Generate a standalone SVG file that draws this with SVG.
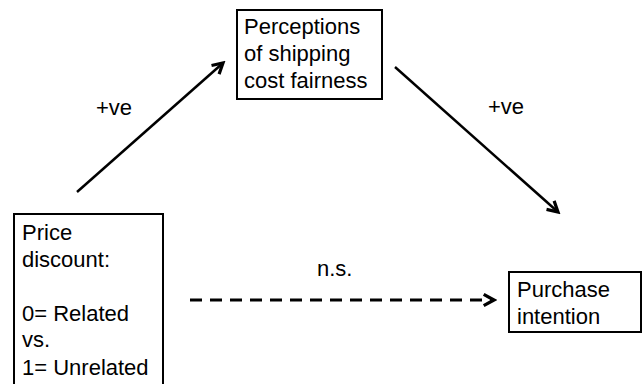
<svg xmlns="http://www.w3.org/2000/svg" width="643" height="384" viewBox="0 0 643 384">
<defs>
<style>
.box{fill:#fff;stroke:#000;stroke-width:2}
text{font-family:"Liberation Sans",Arial,sans-serif;font-size:22px;fill:#000}
.conn{stroke:#000;stroke-width:2.5;fill:none}
.dash{stroke-width:3;stroke-dasharray:12 8}
</style>
<marker id="ah" markerUnits="userSpaceOnUse" markerWidth="16" markerHeight="16" refX="11" refY="6" orient="auto" viewBox="0 0 14 12">
<path d="M2,1 L11,6 L2,11" fill="none" stroke="#000" stroke-width="2.8" stroke-linejoin="miter"/>
</marker>
</defs>
<rect width="643" height="384" fill="#fff"/>
<g id="connectors">
<line class="conn" x1="77" y1="192" x2="223" y2="63" marker-end="url(#ah)"/>
<line class="conn" x1="395" y1="67" x2="558" y2="212" marker-end="url(#ah)"/>
<line class="conn dash" x1="190" y1="300" x2="494" y2="300" marker-end="url(#ah)"/>
<text x="96" y="115">+ve</text>
<text x="488" y="114">+ve</text>
<text x="317" y="276">n.s.</text>
</g>
<g id="node-perceptions">
<rect class="box" x="237" y="10" width="145" height="89"/>
<text x="244" y="34">Perceptions</text>
<text x="244" y="61">of shipping</text>
<text x="244" y="88">cost fairness</text>
</g>
<g id="node-price">
<rect class="box" x="14" y="214" width="149" height="180"/>
<text x="22" y="240">Price</text>
<text x="22" y="267">discount:</text>
<text x="22" y="321">0= Related</text>
<text x="22" y="347">vs.</text>
<text x="22" y="375">1= Unrelated</text>
</g>
<g id="node-purchase">
<rect class="box" x="509" y="272" width="132" height="60"/>
<text x="517" y="297">Purchase</text>
<text x="517" y="324">intention</text>
</g>
</svg>
